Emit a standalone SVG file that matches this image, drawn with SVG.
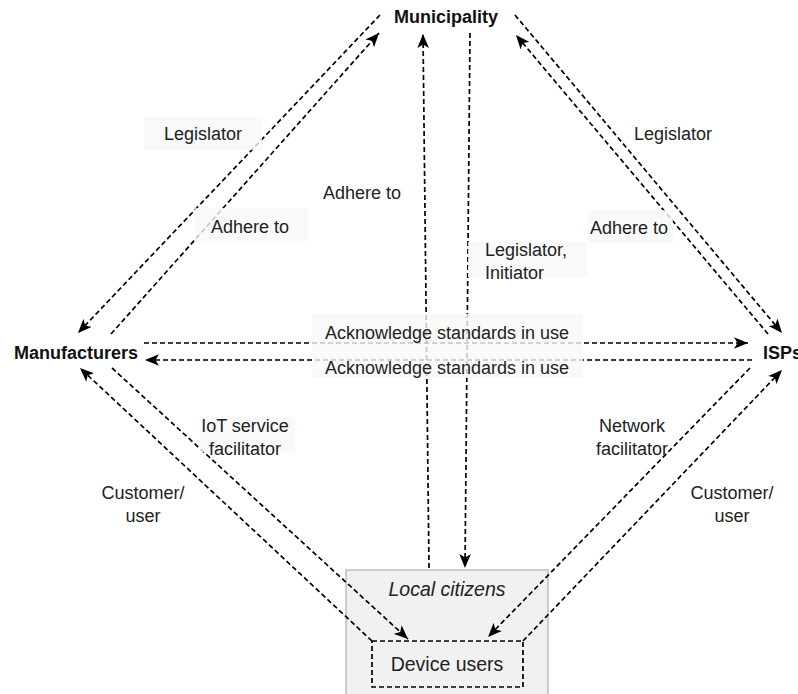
<svg xmlns="http://www.w3.org/2000/svg" width="798" height="694" viewBox="0 0 798 694">
<defs>
<marker id="arr" viewBox="0 0 12 10" refX="12" refY="5" markerWidth="14" markerHeight="12" markerUnits="userSpaceOnUse" orient="auto">
<path d="M0,0 L12,5 L0,10 L3,5 Z" fill="#000"/>
</marker>
<style>
.e{fill:none;stroke:#000;stroke-width:1.7;stroke-dasharray:5 3}
.t{font-family:"Liberation Sans",Arial,sans-serif;font-size:18px;fill:#222}
.b{font-family:"Liberation Sans",Arial,sans-serif;font-size:18px;font-weight:bold;fill:#111}
.lb{fill:#f8f8f8;fill-opacity:0.8}
</style>
</defs>
<rect width="798" height="694" fill="#fff"/>
<g id="local-citizens">
<rect x="346" y="570" width="202" height="130" fill="#f1f1f1" stroke="#bdbdbd" stroke-width="1.5"/>
<text x="447" y="596" text-anchor="middle" class="t" font-style="italic" style="font-size:19.5px">Local citizens</text>
</g>
<g id="device-users">
<rect x="372" y="641" width="151" height="46" fill="#fff" class="e"/>
<text x="447" y="671" text-anchor="middle" class="t" style="font-size:19.5px">Device users</text>
</g>
<g id="municipality"><text x="446" y="23" text-anchor="middle" class="b">Municipality</text></g>
<g id="manufacturers"><text x="76" y="359" text-anchor="middle" class="b">Manufacturers</text></g>
<g id="isps"><text x="763" y="359" class="b">ISPs</text></g>
<g id="connectors">
<line class="e" x1="380" y1="15" x2="78" y2="333" marker-end="url(#arr)"/>
<line class="e" x1="111" y1="334" x2="379" y2="33" marker-end="url(#arr)"/>
<line class="e" x1="515" y1="15" x2="782" y2="333" marker-end="url(#arr)"/>
<line class="e" x1="768" y1="334" x2="516" y2="35" marker-end="url(#arr)"/>
<line class="e" x1="470" y1="33" x2="465" y2="568" marker-end="url(#arr)"/>
<line class="e" x1="429" y1="568" x2="423" y2="34" marker-end="url(#arr)"/>
<line class="e" x1="144" y1="343" x2="748" y2="343" marker-end="url(#arr)"/>
<line class="e" x1="752" y1="360" x2="145" y2="360" marker-end="url(#arr)"/>
<line class="e" x1="112" y1="368" x2="408" y2="639" marker-end="url(#arr)"/>
<line class="e" x1="372" y1="641" x2="80" y2="368" marker-end="url(#arr)"/>
<line class="e" x1="750" y1="368" x2="488" y2="637" marker-end="url(#arr)"/>
<line class="e" x1="523" y1="641" x2="782" y2="370" marker-end="url(#arr)"/>
</g>
<g id="labels">
<rect class="lb" x="144" y="117" width="118" height="33"/>
<text x="203" y="140" text-anchor="middle" class="t">Legislator</text>
<rect class="lb" x="195" y="208" width="113" height="33"/>
<text x="250" y="233" text-anchor="middle" class="t">Adhere to</text>
<text x="362" y="199" text-anchor="middle" class="t">Adhere to</text>
<rect class="lb" x="468" y="242" width="119" height="35"/>
<text x="485" y="256" class="t">Legislator,</text>
<text x="485" y="279" class="t">Initiator</text>
<text x="673" y="140" text-anchor="middle" class="t">Legislator</text>
<rect class="lb" x="588" y="210" width="85" height="33"/>
<text x="629" y="234" text-anchor="middle" class="t">Adhere to</text>
<rect class="lb" x="312" y="314" width="271" height="64"/>
<text x="447" y="339" text-anchor="middle" class="t">Acknowledge standards in use</text>
<text x="447" y="374" text-anchor="middle" class="t">Acknowledge standards in use</text>
<rect class="lb" x="200" y="417" width="95" height="35"/>
<text x="245" y="432" text-anchor="middle" class="t">IoT service</text>
<text x="245" y="455" text-anchor="middle" class="t">facilitator</text>
<text x="143" y="499" text-anchor="middle" class="t">Customer/</text>
<text x="143" y="522" text-anchor="middle" class="t">user</text>
<text x="632" y="432" text-anchor="middle" class="t">Network</text>
<text x="632" y="455" text-anchor="middle" class="t">facilitator</text>
<text x="732" y="499" text-anchor="middle" class="t">Customer/</text>
<text x="732" y="522" text-anchor="middle" class="t">user</text>
</g>
</svg>
